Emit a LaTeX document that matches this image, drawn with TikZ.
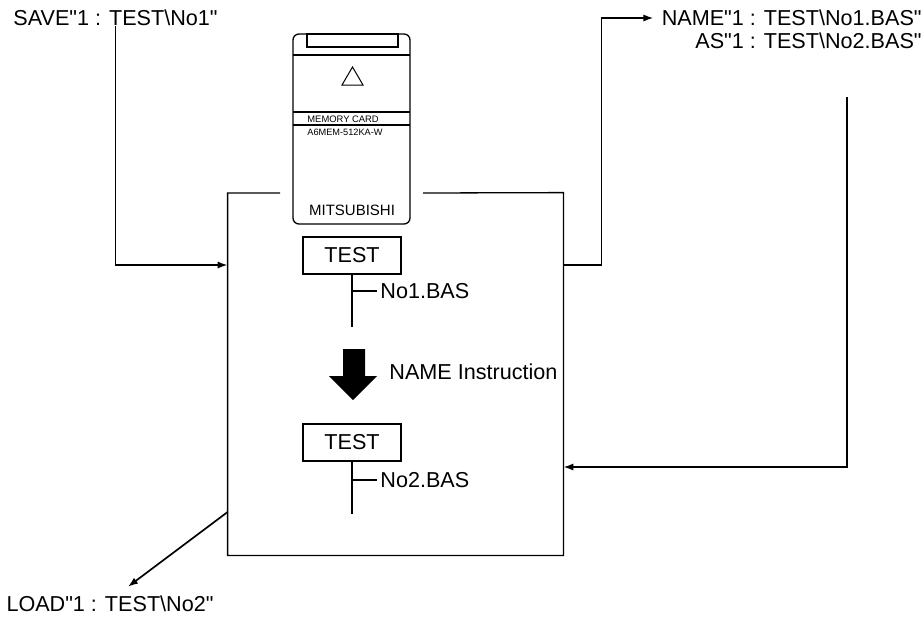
\documentclass[tikz,border=0pt]{standalone}
\usepackage{fontspec}
\setmainfont{Liberation Sans}[Ligatures=TeXOff]
\usetikzlibrary{arrows.meta,positioning}

\begin{document}
\begin{tikzpicture}[x=0.5pt,y=-0.5pt,
  txt/.style={inner sep=0pt,font=\fontsize{10.8}{13}\selectfont},
  frame/.style={line width=0.65pt},
  conn/.style={line width=0.85pt},
  arr/.style={conn,-{Latex[length=5pt,width=3.6pt]}},
  dirbox/.style={draw,line width=0.6pt,minimum width=49pt,minimum height=18.5pt,inner sep=0pt,font=\fontsize{10.8}{13}\selectfont}]
\useasboundingbox (0,0) rectangle (924,616);

% commands and the card area
\node[txt] (save) at (115.5,18) {SAVE"1 : TEST\textbackslash No1"};
\node[txt,anchor=east] (name1) at (922,18) {NAME"1 : TEST\textbackslash No1.BAS"};
\node[txt,anchor=east] (name2) at (922,41) {AS"1 : TEST\textbackslash No2.BAS"};
\node[txt] (load) at (110,604) {LOAD"1 : TEST\textbackslash No2"};
\node[minimum width=167.5pt,minimum height=181pt,inner sep=0pt] (sd) at (395.5,374) {};
\draw[frame] (280,193) -| (sd.south west) -| (sd.north east) -- (423,193);

% memory card
\draw[frame,rounded corners=3pt] (293,34) rectangle (410,224);
\draw[frame] (307,34) rectangle (398,47);
\draw[frame] (293,55) -- (410,55) (293,112) -- (410,112) (293,125) -- (410,125);
\draw[line width=0.5pt] (342,85) -- (363,85) -- (352.5,67) -- cycle;
\node[inner sep=0pt,anchor=west,font=\fontsize{4.7}{5}\selectfont] (cardtype) at (307,119) {MEMORY CARD};
\node[inner sep=0pt,anchor=west,font=\fontsize{4.6}{5}\selectfont] (cardmodel) at (307,132) {A6MEM-512KA-W};
\node[inner sep=0pt,font=\fontsize{7.5}{8}\selectfont] (maker) at (352,210) {MITSUBISHI};

% directory before and after renaming
\node[dirbox] (dir1) at (352,255.5) {TEST};
\node[txt,anchor=west] (file1) at (380,291) {No1.BAS};
\draw[conn] (dir1.south) -- ++(0,52);
\draw[conn] (dir1.south |- file1.west) -- ([xshift=-1.5pt]file1.west);

\fill (343,349) -- (365,349) -- (365,376) -- (377,376) -- (353,400) -- (329,376) -- (343,376) -- cycle;
\node[txt,anchor=west] (instr) at (389,372) {NAME Instruction};

\node[dirbox] (dir2) at (352,442.5) {TEST};
\node[txt,anchor=west] (file2) at (380,480) {No2.BAS};
\draw[conn] (dir2.south) -- ++(0,52);
\draw[conn] (dir2.south |- file2.west) -- ([xshift=-1.5pt]file2.west);

% connectors
\coordinate (row1) at (0,265);
\coordinate (row2) at (0,467);
\coordinate (row3) at (0,512);
\coordinate (asfoot) at (847,97);
\draw[arr] (save.south) |- (sd.west |- row1);
\draw[arr,shorten >=4pt] (sd.east |- row1) -- ++(38,0) |- (name1.west);
\draw[arr] (asfoot) |- (sd.east |- row2);
\draw[arr] (sd.west |- row3) -- ([shift={(18,-9)}]load.north);
\end{tikzpicture}
\end{document}
